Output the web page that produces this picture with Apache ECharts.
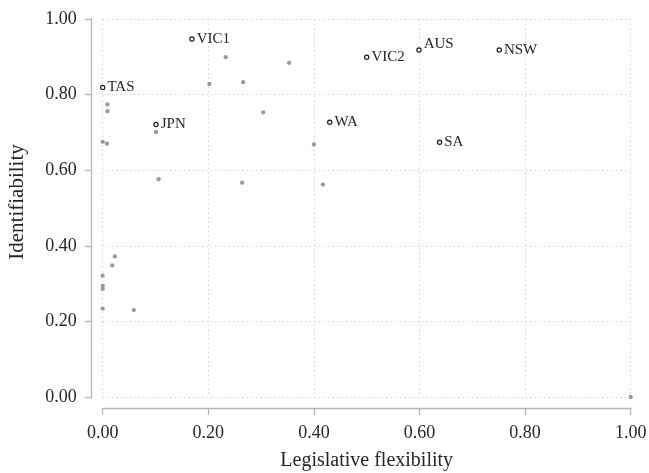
<!DOCTYPE html>
<html>
<head>
<meta charset="utf-8">
<script src="https://cdn.jsdelivr.net/npm/echarts@6/dist/echarts.min.js"></script>
<style>
html,body{margin:0;padding:0;background:#fff;}
#chart{width:649px;height:473px;}
</style>
</head>
<body>
<div id="chart"></div>
<script>
// Labelled cases
var labelNames = ['VIC1', 'TAS', 'JPN', 'AUS', 'NSW', 'VIC2', 'WA', 'SA'];
var labelX = [0.169, 0.0, 0.101, 0.599, 0.751, 0.500, 0.430, 0.638];
var labelY = [0.947, 0.819, 0.721, 0.918, 0.918, 0.899, 0.727, 0.674];

// Unlabelled cases
var otherX = [0.233, 0.202, 0.266, 0.009, 0.009, 0.304, 0.101, 0.000, 0.008, 0.106, 0.264,
              0.353, 0.400, 0.417, 0.023, 0.018, 0.000, 0.000, 0.000, 0.000, 0.059, 1.000];
var otherY = [0.899, 0.828, 0.833, 0.774, 0.756, 0.753, 0.701, 0.675, 0.670, 0.576, 0.567,
              0.884, 0.668, 0.562, 0.372, 0.348, 0.321, 0.294, 0.286, 0.234, 0.230, 0.000];

// Axis ticks
var xTicks = [0, 0.2, 0.4, 0.6, 0.8, 1.0];
var yTicks = [0, 0.2, 0.4, 0.6, 0.8, 1.0];

var labelOffsets = { 'AUS': [0, -6] };

var FONT = 'Liberation Serif';
var TXT = '#262626';
var chart = echarts.init(document.getElementById('chart'), null, {renderer: 'canvas'});

var otherData = otherX.map(function (x, i) { return [x, otherY[i]]; });
var labelData = labelNames.map(function (n, i) {
  var item = { name: n, value: [labelX[i], labelY[i]] };
  if (labelOffsets[n]) item.label = { offset: labelOffsets[n] };
  return item;
});

function axisCommon(ticks) {
  return {
    type: 'value',
    min: ticks[0],
    max: ticks[ticks.length - 1],
    interval: ticks[1] - ticks[0],
    offset: 11,
    axisLine: { show: true, onZero: false, lineStyle: { color: '#b5b5b5', width: 1.3 } },
    axisTick: { show: true, length: 7, lineStyle: { color: '#b5b5b5', width: 1.3 } },
    splitLine: { show: true, lineStyle: { color: '#d2d2d2', type: [1.5, 3], width: 1 } },
    axisLabel: {
      fontFamily: FONT, fontSize: 18, color: TXT,
      formatter: function (v) { return v.toFixed(2); }
    },
    nameLocation: 'middle',
    nameMoveOverlap: false
  };
}

var xAxis = axisCommon(xTicks);
xAxis.name = 'Legislative flexibility';
xAxis.nameGap = 43;
xAxis.axisLabel.margin = 16;
xAxis.nameTextStyle = { fontFamily: FONT, fontSize: 20, color: TXT };

var yAxis = axisCommon(yTicks);
yAxis.name = 'Identifiability';
yAxis.nameGap = 64;
yAxis.axisLabel.margin = 15;
yAxis.nameTextStyle = { fontFamily: FONT, fontSize: 21, color: TXT, padding: [0, 0, 0, 12] };

chart.setOption({
  animation: false,
  backgroundColor: '#ffffff',
  grid: { left: 102.7, right: 18.3, top: 19, bottom: 76, containLabel: false, outerBoundsMode: 'none' },
  xAxis: xAxis,
  yAxis: yAxis,
  series: [
    {
      type: 'scatter',
      data: otherData,
      symbol: 'circle',
      symbolSize: 4.3,
      itemStyle: { color: '#999999', opacity: 1 },
      z: 2
    },
    {
      type: 'scatter',
      data: labelData,
      symbol: 'circle',
      symbolSize: 4.2,
      itemStyle: { color: '#ffffff', borderColor: '#1a1a1a', borderWidth: 1.2, opacity: 1 },
      label: {
        show: true, position: 'right', distance: 2,
        formatter: '{b}',
        fontFamily: FONT, fontSize: 15, color: TXT
      },
      z: 3
    }
  ]
});
</script>
</body>
</html>
